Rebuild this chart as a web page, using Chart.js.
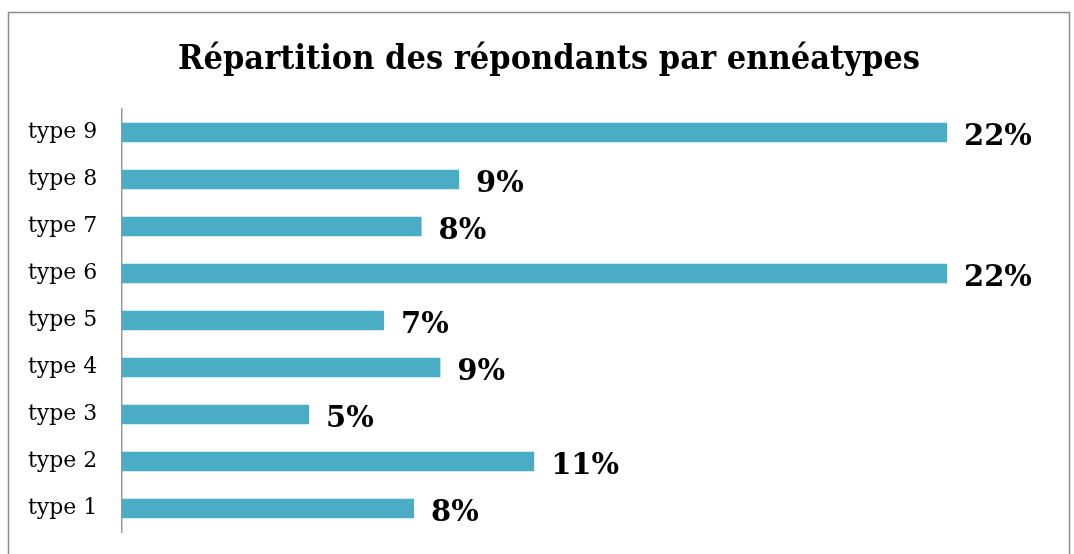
<!DOCTYPE html>
<html>
<head>
<meta charset="utf-8">
<script src="https://cdn.jsdelivr.net/npm/chart.js@4"></script>
<style>
  html, body { margin: 0; padding: 0; background: #fff; overflow: hidden; }
  canvas { display: block; }
</style>
</head>
<body>
<canvas id="chart" width="1074" height="554"></canvas>
<script>
// Données
const categories = ['type 9', 'type 8', 'type 7', 'type 6', 'type 5', 'type 4', 'type 3', 'type 2', 'type 1'];
const values = [22, 9.0, 8.0, 22, 7.0, 8.5, 5.0, 11, 7.8];
const valueLabels = ['22%', '9%', '8%', '22%', '7%', '9%', '5%', '11%', '8%'];
const chartTitle = 'Répartition des répondants par ennéatypes';

// Cadre gris + titre centré sur toute la largeur
const cadrePlugin = {
    id: 'cadre',
    beforeDraw(chart) {
        const ctx = chart.ctx;
        ctx.save();
        ctx.strokeStyle = '#8c8c8c';
        ctx.lineWidth = 1.5;
        ctx.strokeRect(8.5, 12.5, 1061, 560);
        ctx.font = 'bold 34px "DejaVu Serif Condensed", "DejaVu Serif", serif';
        ctx.fillStyle = '#000';
        ctx.textAlign = 'center';
        ctx.textBaseline = 'alphabetic';
        ctx.fillText(chartTitle, 549, 69);
        ctx.restore();
    }
};

// Étiquettes de valeur au bout des barres
const labelPlugin = {
    id: 'etiquettes',
    afterDatasetsDraw(chart) {
        const ctx = chart.ctx;
        const meta = chart.getDatasetMeta(0);
        ctx.save();
        ctx.font = 'bold 29px "DejaVu Serif", serif';
        ctx.fillStyle = '#000';
        ctx.textBaseline = 'alphabetic';
        meta.data.forEach((bar, i) => {
            ctx.fillText(valueLabels[i], bar.x + 17, bar.y + 12);
        });
        ctx.restore();
    }
};

new Chart(document.getElementById('chart'), {
    type: 'bar',
    data: {
        labels: categories,
        datasets: [{
            data: values,
            backgroundColor: '#4BACC6',
            barPercentage: 0.41,
            categoryPercentage: 1
        }]
    },
    options: {
        indexAxis: 'y',
        responsive: false,
        animation: false,
        layout: {
            padding: { left: 4, right: 127, bottom: 22, top: 109 }
        },
        scales: {
            x: {
                display: false,
                min: 0,
                max: 22
            },
            y: {
                grid: { display: false, drawTicks: false },
                border: { display: true, color: '#9a9a9a', width: 1.5 },
                ticks: {
                    color: '#000',
                    padding: 24,
                    font: { family: '"DejaVu Serif", serif', size: 22 }
                },
                // pas de marge verticale ajoutée par les étiquettes
                afterFit(scale) {
                    scale.paddingTop = 0;
                    scale.paddingBottom = 0;
                }
            }
        },
        plugins: {
            legend: { display: false },
            tooltip: { enabled: false },
            title: { display: false }
        }
    },
    plugins: [cadrePlugin, labelPlugin]
});
</script>
</body>
</html>
